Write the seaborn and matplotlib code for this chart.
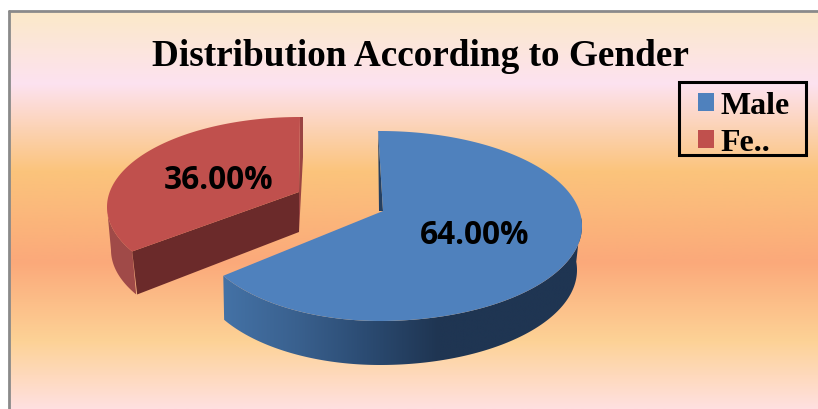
import numpy as np
import seaborn as sns
import matplotlib.pyplot as plt
from matplotlib.colors import LinearSegmentedColormap
from matplotlib.patches import Patch, Polygon, Rectangle

labels = ['Male', 'Fe..']
values = [64.0, 36.0]
value_labels = ['64.00%', '36.00%']
title = 'Distribution According to Gender'

colors = sns.color_palette(['#4F81BD', '#C0504D'])

sns.set_theme(style='white')

W, H = 818, 410
fig = plt.figure(figsize=(W / 100, H / 100), dpi=100)
ax = fig.add_axes([0, 0, 1, 1])
ax.set_xlim(0, W)
ax.set_ylim(H, 0)
ax.axis('off')

# background of the chart area
bg_stops = [(0.0, '#FBE9C9'), (0.18, '#FDE2F0'), (0.40, '#FBC47C'),
            (0.63, '#FBA97A'), (0.83, '#FDD296'), (1.0, '#FFE0E0')]
bg_cmap = LinearSegmentedColormap.from_list('bg', bg_stops)
ax.imshow(np.linspace(0, 1, 256).reshape(-1, 1), cmap=bg_cmap, aspect='auto',
          extent=(10, W, H, 13), zorder=0)
ax.plot([9, 9], [H, 12], color='#8A8A8A', lw=2, zorder=1)
ax.plot([9, W], [12, 12], color='#8A8A8A', lw=2, zorder=1)


def rim(cx, cy, rx, rx_left, ry, a0, a1):
    # points on the pie edge, angle clockwise from the top
    t = np.radians(np.linspace(a0, a1, 200))
    s = np.sin(t)
    return np.column_stack([cx + np.where(s > 0, rx, rx_left) * s, cy - ry * np.cos(t)])


def gradient_side(pts, stops, x0, x1, y0, y1):
    cmap = LinearSegmentedColormap.from_list('side', stops)
    poly = Polygon(pts, closed=True, fc='none', ec='none', zorder=2)
    ax.add_patch(poly)
    im = ax.imshow(np.linspace(0, 1, 256).reshape(1, -1), cmap=cmap, aspect='auto',
                   extent=(x0, x1, y1, y0), zorder=2)
    im.set_clip_path(poly)
    ax.set_xlim(0, W)
    ax.set_ylim(H, 0)


# the far edge of each slice is drawn a little further round, for the tilt
split = 360 * values[0] / sum(values)
male_end = split + 8
female_start = split + 10

# male slice
cx, cy, rx, rx_left, ry, depth = 380, 227, 202, 184, 95, 44
apex = np.array([383, 212])
top = rim(cx, cy, rx, rx_left, ry, -0.6, male_end)
vis = rim(cx, cy, rx, rx_left, ry, 85, male_end)
low = rim(cx, cy + depth, rx - 5, rx_left - 1, ry, 85, male_end)
side = np.vstack([vis, low[::-1]])
gradient_side(side, ['#4472A6', '#3A618F', '#2B4B72', '#1F3552', '#1F3552', '#1F3552'],
              223, 582, 200, 380)
inner = np.array([top[0], apex, apex + [-4, 0]])
ax.add_patch(Polygon(inner, closed=True, fc='#254061', ec='none', zorder=2))
ax.add_patch(Polygon(np.vstack([apex, top]), closed=True, fc=colors[0], ec='none', zorder=3))

# female slice, pulled away from the male one
cx, cy, rx, rx_left, ry, depth = 300, 208, 193, 193, 90, 43
apex = np.array([299, 193])
top = rim(cx, cy, rx, rx_left, ry, female_start, 360)
vis = rim(cx, cy, rx, rx_left, ry, female_start, 270)
side = np.vstack([vis, (vis + [4, depth])[::-1]])
ax.add_patch(Polygon(side, closed=True, fc='#A04A48', ec='none', zorder=2))
cut = np.array([top[0], apex, apex + [0, depth - 3], top[0] + [5, depth]])
ax.add_patch(Polygon(cut, closed=True, fc='#6B2A2A', ec='none', zorder=2))
ax.add_patch(Polygon([top[-1], top[-1] + [3, 0], top[-1] + [3, 40], apex + [0, depth - 3], apex],
                     closed=True, fc='#9A4442', ec='none', zorder=2))
ax.add_patch(Polygon(np.vstack([apex, top]), closed=True, fc=colors[1], ec='none', zorder=3))

# value labels
ax.text(475, 236, value_labels[0], ha='center', va='center', fontsize=22.8,
        fontweight='bold', family='Open Sans', color='black', zorder=4)
ax.text(219, 181, value_labels[1], ha='center', va='center', fontsize=22.8,
        fontweight='bold', family='Open Sans', color='black', zorder=4)

ax.text(420, 56, title, ha='center', va='center', fontsize=26.8,
        fontweight='bold', family='Liberation Serif', color='black', zorder=4)

# legend, box drawn separately so it keeps the size of the original
ax.add_patch(Rectangle((679, 83), 127, 73, fc='none', ec='black', lw=2.2, zorder=5))
handles = [Patch(fc=colors[i], ec='none', label=labels[i]) for i in range(len(labels))]
leg = ax.legend(handles=handles, loc='upper left', bbox_to_anchor=(698 / W, 1 - 92 / H),
                borderaxespad=0, borderpad=0, frameon=False, labelcolor='black',
                handlelength=0.5, handleheight=0.5, handletextpad=0.2, labelspacing=0.25,
                prop={'family': 'Liberation Serif', 'weight': 'bold', 'size': 23})
leg.set_zorder(5)

fig.savefig('out.png', dpi=100)
